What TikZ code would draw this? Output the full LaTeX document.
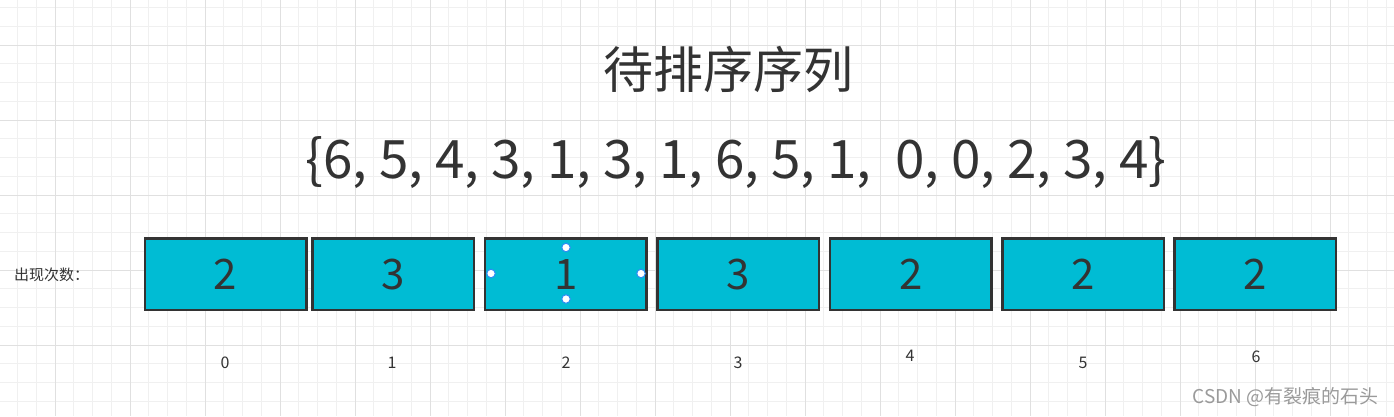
\documentclass[tikz,border=0pt]{standalone}
\usepackage{fontspec}
\setmainfont{Noto Sans CJK SC}
\definecolor{boxfill}{HTML}{00BCD4}
\definecolor{boxline}{HTML}{333333}
\definecolor{txt}{HTML}{333333}
\definecolor{gminor}{HTML}{F0F0F0}
\definecolor{gmajor}{HTML}{E0E0E0}
\definecolor{handle}{HTML}{2C8CF4}
\definecolor{wm}{HTML}{9A9A9A}
\begin{document}
\begin{tikzpicture}[x=1pt,y=-1pt,
  cell/.style={draw=boxline, line width=2.5pt, fill=boxfill, minimum width=161.5pt, minimum height=71.2pt, inner sep=0pt, text=txt, font=\fontsize{42}{42}\selectfont},
  idx/.style={text=txt, font=\fontsize{16}{16}\selectfont, inner sep=0pt},
  hdl/.style={circle, draw=handle, fill=white, line width=1pt, minimum size=8.5pt, inner sep=0pt}]
\useasboundingbox (0,0) rectangle (1394,416);
\fill[white] (0,0) rectangle (1394,416);
% grid
\foreach \i in {0,...,74} {
  \draw[gminor, line width=1pt] ({-1.25+18.75*\i},0) -- ({-1.25+18.75*\i},416);
}
\foreach \i in {0,...,22} {
  \draw[gminor, line width=1pt] (0,{7.5+18.75*\i}) -- (1394,{7.5+18.75*\i});
}
\foreach \i in {0,...,18} {
  \draw[gmajor, line width=1pt] ({55+75*\i},0) -- ({55+75*\i},416);
}
\foreach \i in {0,...,5} {
  \draw[gmajor, line width=1pt] (0,{45+75*\i}) -- (1394,{45+75*\i});
}
% titles
\node[text=txt, font=\fontsize{50}{50}\selectfont, inner sep=0pt] (title) at (728,69) {待排序序列};
\node[text=txt, font=\fontsize{53}{53}\selectfont, inner sep=0pt] (seq) at (736,163) {\{6, 5, 4, 3, 1, 3, 1, 6, 5, 1, \ 0, 0, 2, 3, 4\}};
\node[text=txt, font=\fontsize{15}{15}\selectfont, inner sep=0pt, anchor=west] (lbl) at (14,275) {出现次数：};
% cells
\node[cell] (c0) at (225.5,274.2) {2};
\node[cell] (c1) at (393.0,274.2) {3};
\node[cell] (c2) at (565.7,274.2) {1};
\node[cell] (c3) at (738.3,274.2) {3};
\node[cell] (c4) at (910.7,274.2) {2};
\node[cell] (c5) at (1083.3,274.2) {2};
\node[cell] (c6) at (1255.2,274.2) {2};
% indices
\node[idx] (i0) at (225,363) {0};
\node[idx] (i1) at (392,363) {1};
\node[idx] (i2) at (566,363) {2};
\node[idx] (i3) at (738,363) {3};
\node[idx] (i4) at (910,356) {4};
\node[idx] (i5) at (1083,363) {5};
\node[idx] (i6) at (1256,357) {6};
% selection handles
\node[hdl] (h1) at (566,247.5) {};
\node[hdl] (h2) at (491,273.5) {};
\node[hdl] (h3) at (641,273.5) {};
\node[hdl] (h4) at (566,299) {};
% watermark
\node[text=wm, font=\fontsize{19}{19}\selectfont, inner sep=0pt, anchor=east] (wmk) at (1379,397) {CSDN @有裂痕的石头};
\end{tikzpicture}
\end{document}
